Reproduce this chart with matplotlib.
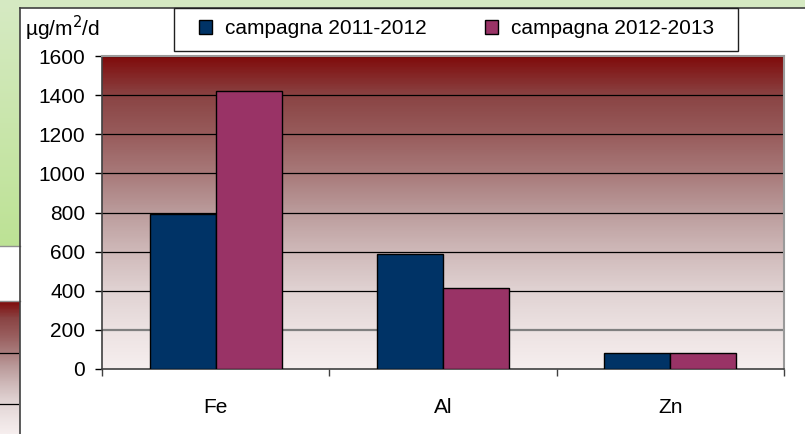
import numpy as np
import matplotlib
matplotlib.use('agg')
import matplotlib.pyplot as plt
import matplotlib.colors as mcolors
from matplotlib.patches import Rectangle
from matplotlib.lines import Line2D

plt.rcParams['font.family'] = ['Liberation Sans', 'DejaVu Sans']

# data
elements = ['Fe', 'Al', 'Zn']
camp_2011 = [791, 587, 81]
camp_2012 = [1423, 413, 81]
series_names = ['campagna 2011-2012', 'campagna 2012-2013']
yticks = [0, 200, 400, 600, 800, 1000, 1200, 1400, 1600]

W, H = 805, 434
FS = 15


def fx(x):
    return x / W


def fy(y):
    return 1 - y / H


fig = plt.figure(figsize=(W / 100, H / 100), dpi=100)
fig.patch.set_facecolor('white')

# green background panel (top band + left strip)
green = mcolors.LinearSegmentedColormap.from_list('g', ['#d6eac3', '#bde295'])
fig.patches.append(Rectangle((0, fy(8)), 1, 8 / H, transform=fig.transFigure,
                             facecolor='#d5e9c2', edgecolor='none', zorder=0))
gax = fig.add_axes([0, fy(246), fx(20), 246 / H])
gax.imshow(np.linspace(0, 1, 100).reshape(-1, 1), aspect='auto', cmap=green,
           extent=[0, 1, 0, 1])
gax.set_axis_off()

redgrad = mcolors.LinearSegmentedColormap.from_list(
    'r', ['#800c0c', '#8a4444', '#985c5c', '#a87a7a', '#bb9c9c',
          '#cfb9b9', '#e0d2d2', '#ece2e2', '#f6eeee'])

# fragment of another chart on the left
rax = fig.add_axes([0, 0, fx(19), (H - 301) / H])
rax.imshow(np.linspace(0, 0.3, 100).reshape(-1, 1), aspect='auto', cmap=redgrad,
           extent=[0, 1, 0, 1])
for yy in [353, 404]:
    rax.axhline((H - yy) / (H - 301), color='black', lw=0.9)
rax.set_axis_off()
fig.lines.append(Line2D([0, fx(20)], [fy(246), fy(246)], transform=fig.transFigure,
                        color='#909090', lw=1))
fig.lines.append(Line2D([0, fx(20)], [fy(301), fy(301)], transform=fig.transFigure,
                        color='#909090', lw=1))

# chart frame
fig.lines.append(Line2D([fx(20), fx(20)], [0, fy(8)], transform=fig.transFigure,
                        color='#404040', lw=1.2))
fig.lines.append(Line2D([fx(20), 1], [fy(8), fy(8)], transform=fig.transFigure,
                        color='#404040', lw=1.2))

# main plot area
ax = fig.add_axes([fx(102), fy(369), (784 - 102) / W, (369 - 56) / H])
ax.imshow(np.linspace(0, 1, 200).reshape(-1, 1), aspect='auto', cmap=redgrad,
          extent=[-0.5, 2.5, 0, 1600], zorder=0)

x = np.arange(len(elements))
bw = 0.29
ax.bar(x - bw / 2, camp_2011, bw, color='#003366', edgecolor='black', lw=1,
       label=series_names[0], zorder=3)
ax.bar(x + bw / 2, camp_2012, bw, color='#993366', edgecolor='black', lw=1,
       label=series_names[1], zorder=3)

for v in yticks[2:]:
    ax.axhline(v, color='black', lw=0.9, zorder=1)
ax.axhline(200, color='#808080', lw=1.6, zorder=1)

ax.set_xlim(-0.5, 2.5)
ax.set_ylim(0, 1600)
ax.set_yticks(yticks)
ax.tick_params(axis='y', length=5, width=1, pad=7, labelsize=FS, colors='black')
ax.set_xticks([-0.5, 0.5, 1.5, 2.5])
ax.set_xticklabels([])
ax.set_xticks(x, minor=True)
ax.set_xticklabels(elements, minor=True, fontsize=FS)
ax.tick_params(axis='x', which='major', length=5, width=1, color='#404040')
ax.tick_params(axis='x', which='minor', length=0, pad=21)
for s in ['left', 'bottom']:
    ax.spines[s].set_color('#404040')
    ax.spines[s].set_linewidth(1.2)
for s in ['top', 'right']:
    ax.spines[s].set_color('#9a9a9a')
    ax.spines[s].set_linewidth(1.5)

# unit label
fig.text(fx(25), fy(28), 'µg/m$^2$/d', fontsize=FS, va='center', ha='left',
         math_fontfamily='dejavusans')

# legend box
fig.patches.append(Rectangle((fx(174), fy(51)), (738 - 174) / W, 43 / H,
                             transform=fig.transFigure, facecolor='white',
                             edgecolor='#202020', lw=1, zorder=2))
handles, labels = ax.get_legend_handles_labels()
leg = fig.legend(handles, labels, ncol=2, loc='center left',
                 bbox_to_anchor=(fx(199), fy(29)), frameon=False, fontsize=FS,
                 handlelength=0.62, handleheight=0.62, handletextpad=0.62,
                 columnspacing=2.8, borderaxespad=0, borderpad=0)
leg.set_zorder(3)

plt.savefig('out.png', dpi=100)
plt.close('all')
